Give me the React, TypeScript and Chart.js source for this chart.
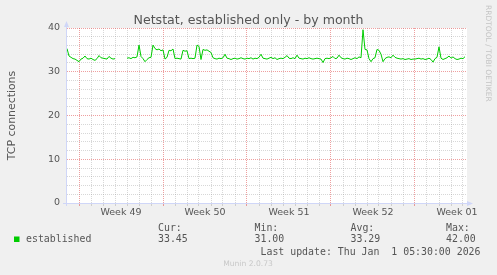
import React, { useEffect, useRef } from 'react';
import { Chart, registerables } from 'chart.js';

Chart.register(...registerables);

// ---------- data ----------
const TITLE = 'Netstat, established only - by month';
const Y_TITLE = 'TCP connections';
const WATERMARK = 'RRDTOOL / TOBI OETIKER';
const FOOTER = 'Munin 2.0.73';
const LAST_UPDATE = 'Last update: Thu Jan  1 05:30:00 2026';

const WEEK_LABELS = ['Week 49', 'Week 50', 'Week 51', 'Week 52', 'Week 01'];
const WEEK_STARTS = [1, 8, 15, 22, 29]; // day offsets from left edge of graph
const DAYS_SHOWN = 400 / 12; // visible time span in days
const SAMPLE_STEP_DAYS = 1 / 6; // 4-hour samples

const Y_MIN = 0;
const Y_MAX = 40;
const Y_STEP = 2;
const Y_MAJOR = 10;

const SERIES_NAME = 'established';
const STAT_LABELS = ['Cur:', 'Min:', 'Avg:', 'Max:'];
const STAT_VALUES = ['33.45', '31.00', '33.29', '42.00'];

// established connections, one value per 4 h sample (null = no data)
const ESTABLISHED: (number | null)[] = [
  35.3, 33.6, 33.3, 33.0, 32.9, 32.6, 32.3, 32.9, 33.1, 33.6,
  33.0, 32.9, 33.1, 32.8, 32.6, 33.0, 33.7, 33.2, 33.1, 33.0,
  32.9, 33.5, 33.1, 32.9, 33.0, null, null, null, null, null,
  33.1, 33.2, 33.0, 33.3, 33.2, 33.4, 36.1, 33.5, 33.0, 32.3,
  32.8, 33.2, 33.3, 36.1, 35.3, 35.0, 35.2, 34.8, 35.0, 32.9,
  33.3, 34.9, 34.8, 35.2, 33.0, 33.1, 33.0, 32.9, 34.9, 34.7,
  34.8, 33.0, 33.1, 33.0, 33.1, 36.1, 35.8, 32.8, 35.1, 34.9,
  35.0, 34.7, 34.4, 33.2, 33.0, 32.9, 33.1, 33.0, 33.2, 34.0,
  33.1, 33.0, 32.8, 33.0, 33.1, 32.9, 33.0, 33.2, 33.0, 32.9,
  33.1, 33.0, 33.2, 32.9, 33.1, 33.0, 33.3, 34.0, 33.1, 33.0,
  32.9, 33.1, 33.3, 33.0, 33.2, 32.8, 33.0, 33.1, 33.0, 33.3,
  33.7, 33.1, 33.0, 33.2, 33.0, 33.8, 33.1, 33.0, 32.9, 33.1,
  33.0, 33.2, 33.0, 32.9, 33.0, 33.1, 33.0, 32.9, 32.1, 33.0,
  33.1, 33.0, 33.2, 33.5, 33.0, 33.1, 33.8, 33.2, 33.0, 32.9,
  33.1, 33.0, 32.8, 33.0, 33.2, 33.0, 33.4, 33.2, 39.6, 35.1,
  35.0, 33.0, 32.3, 33.0, 33.2, 35.1, 34.9, 34.0, 32.3, 33.0,
  33.3, 33.4, 33.2, 33.8, 33.3, 33.1, 33.0, 32.9, 33.0, 32.8,
  32.9, 33.0, 32.8, 32.9, 32.9, 33.0, 33.1, 32.9, 33.0, 32.8,
  32.9, 33.1, 32.8, 32.2, 33.0, 33.3, 35.7, 33.1, 32.8, 33.0,
  33.2, 33.6, 33.1, 33.4, 33.0, 32.8, 32.9, 33.1, 33.0, 33.45,
];

// ---------- styles ----------
const BG = '#F0F0F0';
const CANVAS_BG = '#FFFFFF';
const FONT_COLOR = '#555555';
const AXIS_COLOR = '#CFD6F8';
const MAJOR_GRID = 'rgba(224,80,80,0.55)';
const MINOR_GRID = 'rgba(150,150,150,0.38)';
const LINE_COLOR = '#00CC00';
const SANS = '"DejaVu Sans", sans-serif';
const MONO = '"DejaVu Sans Mono", monospace';

const isWeekStart = (v: number) => WEEK_STARTS.some((w) => Math.abs(w - v) < 1e-6);
const weekMid = (i: number) => WEEK_STARTS[i] + 3.5;

const muninPlugin = {
  id: 'muninDecor',
  beforeDraw(chart: any) {
    const { ctx, chartArea: a, width, height } = chart;
    ctx.save();
    ctx.fillStyle = BG;
    ctx.fillRect(0, 0, width, height);
    ctx.fillStyle = CANVAS_BG;
    ctx.fillRect(a.left, a.top, a.right - a.left, a.bottom - a.top);
    ctx.restore();
  },
  afterDraw(chart: any) {
    const { ctx, chartArea: a } = chart;
    ctx.save();
    // axes
    ctx.strokeStyle = AXIS_COLOR;
    ctx.fillStyle = AXIS_COLOR;
    ctx.lineWidth = 1;
    ctx.beginPath();
    ctx.moveTo(a.left - 0.5, a.bottom + 3);
    ctx.lineTo(a.left - 0.5, a.top - 2);
    ctx.moveTo(a.left - 4, a.bottom + 0.5);
    ctx.lineTo(a.right + 1, a.bottom + 0.5);
    ctx.stroke();
    // arrows
    ctx.beginPath();
    ctx.moveTo(a.left - 0.5, a.top - 7);
    ctx.lineTo(a.left - 3, a.top - 1);
    ctx.lineTo(a.left + 2, a.top - 1);
    ctx.closePath();
    ctx.fill();
    ctx.beginPath();
    ctx.moveTo(a.right + 6, a.bottom + 0.5);
    ctx.lineTo(a.right, a.bottom - 2);
    ctx.lineTo(a.right, a.bottom + 3);
    ctx.closePath();
    ctx.fill();

    // title
    ctx.fillStyle = FONT_COLOR;
    ctx.font = `12.6px ${SANS}`;
    ctx.textAlign = 'center';
    ctx.textBaseline = 'alphabetic';
    ctx.fillText(TITLE, 248.5, 23.5);

    // y title
    ctx.save();
    ctx.translate(15, 115.5);
    ctx.rotate(-Math.PI / 2);
    ctx.font = `10.9px ${SANS}`;
    ctx.textAlign = 'center';
    ctx.textBaseline = 'alphabetic';
    ctx.fillText(Y_TITLE, 0, 0);
    ctx.restore();

    // watermark
    ctx.save();
    ctx.translate(486, 5);
    ctx.rotate(Math.PI / 2);
    ctx.fillStyle = '#C4C4C4';
    ctx.font = `7.5px ${SANS}`;
    ctx.textAlign = 'left';
    ctx.textBaseline = 'alphabetic';
    ctx.fillText(WATERMARK, 0, 0);
    ctx.restore();

    // legend
    ctx.fillStyle = LINE_COLOR;
    ctx.fillRect(14, 236.5, 5.5, 5.5);
    ctx.fillStyle = FONT_COLOR;
    ctx.font = `9.9px ${MONO}`;
    ctx.textAlign = 'left';
    ctx.textBaseline = 'middle';
    ctx.fillText(SERIES_NAME, 26, 239.5);
    const cols = [158, 254.5, 350.5, 446];
    STAT_LABELS.forEach((lab, i) => {
      ctx.fillText(lab, cols[i], 228.5);
      ctx.fillText(STAT_VALUES[i], cols[i], 239.5);
    });
    ctx.fillText(LAST_UPDATE, 260.5, 252);

    // footer
    ctx.fillStyle = '#C8C8C8';
    ctx.font = `7.6px ${SANS}`;
    ctx.textAlign = 'center';
    ctx.fillText(FOOTER, 248, 264.5);
    ctx.restore();
  },
};

export default function App() {
  const ref = useRef<HTMLCanvasElement | null>(null);

  useEffect(() => {
    if (!ref.current) return;
    const points = ESTABLISHED.map((v, i) => ({ x: i * SAMPLE_STEP_DAYS, y: v }));

    const xTickValues: number[] = [];
    for (let d = 0; d <= Math.floor(DAYS_SHOWN); d++) xTickValues.push(d);
    WEEK_LABELS.forEach((_, i) => xTickValues.push(weekMid(i)));
    xTickValues.sort((p, q) => p - q);

    const yTickValues: number[] = [];
    for (let v = Y_MIN; v <= Y_MAX; v += Y_STEP) yTickValues.push(v);

    const chart = new Chart(ref.current, {
      type: 'line',
      data: {
        datasets: [
          {
            label: SERIES_NAME,
            data: points as any,
            borderColor: LINE_COLOR,
            borderWidth: 1,
            pointRadius: 0,
            tension: 0,
            spanGaps: false,
            fill: false,
          },
        ],
      },
      options: {
        animation: false,
        responsive: false,
        devicePixelRatio: 1,
        events: [],
        layout: { padding: { left: 0, top: 28, right: 30, bottom: 52 } },
        plugins: { legend: { display: false }, title: { display: false }, tooltip: { enabled: false } },
        scales: {
          x: {
            type: 'linear',
            min: 0,
            max: DAYS_SHOWN,
            afterBuildTicks: (s: any) => {
              s.ticks = xTickValues.map((v) => ({ value: v }));
            },
            afterFit: (s: any) => {
              s.height = 20;
            },
            ticks: {
              autoSkip: false,
              maxRotation: 0,
              minRotation: 0,
              padding: 1,
              color: FONT_COLOR,
              font: { family: SANS, size: 9.5 },
              callback: (v: any) => {
                const idx = WEEK_LABELS.findIndex((_, i) => Math.abs(weekMid(i) - v) < 1e-6);
                return idx >= 0 ? WEEK_LABELS[idx] : '';
              },
            },
            grid: {
              color: (c: any) => {
                const v = c.tick?.value;
                if (v === undefined || v === 0 || !Number.isInteger(v)) return 'rgba(0,0,0,0)';
                return isWeekStart(v) ? MAJOR_GRID : MINOR_GRID;
              },
              tickLength: 3,
              lineWidth: 1,
            },
            border: { display: false, dash: [1, 1] },
          },
          y: {
            type: 'linear',
            min: Y_MIN,
            max: Y_MAX,
            afterBuildTicks: (s: any) => {
              s.ticks = yTickValues.map((v) => ({ value: v }));
            },
            afterFit: (s: any) => {
              s.width = 67;
            },
            ticks: {
              autoSkip: false,
              padding: 4,
              color: FONT_COLOR,
              font: { family: SANS, size: 9.5 },
              callback: (v: any) => (v % Y_MAJOR === 0 ? String(v) : ''),
            },
            grid: {
              color: (c: any) => {
                const v = c.tick?.value;
                if (v === undefined || v === 0) return 'rgba(0,0,0,0)';
                return v % Y_MAJOR === 0 ? MAJOR_GRID : MINOR_GRID;
              },
              tickColor: 'rgba(0,0,0,0)',
              tickLength: 3,
              lineWidth: 1,
            },
            border: { display: false, dash: [1, 1] },
          },
        },
      },
      plugins: [muninPlugin],
    });
    return () => chart.destroy();
  }, []);

  return (
    <div style={{ position: 'fixed', left: 0, top: 0, width: 497, height: 275 }}>
      <canvas ref={ref} width={497} height={275} style={{ width: 497, height: 275, display: 'block' }} />
    </div>
  );
}
